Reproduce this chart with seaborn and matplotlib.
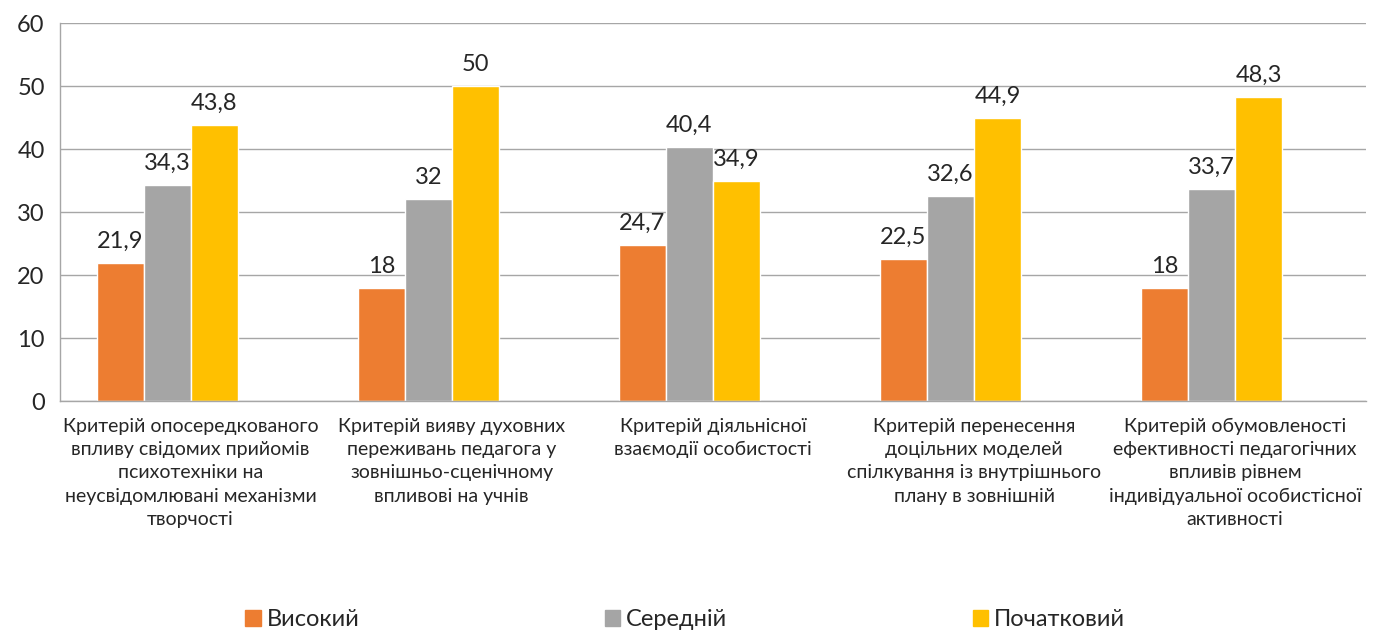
import matplotlib
matplotlib.use("Agg")
import matplotlib.pyplot as plt
import numpy as np
import pandas as pd
import seaborn as sns

# Дані діаграми
categories = [
    "Критерій опосередкованого\nвпливу свідомих прийомів\nпсихотехніки на\nнеусвідомлювані механізми\nтворчості",
    "Критерій вияву духовних\nпереживань педагога у\nзовнішньо-сценічному\nвпливові на учнів",
    "Критерій діяльнісної\nвзаємодії особистості",
    "Критерій перенесення\nдоцільних моделей\nспілкування із внутрішнього\nплану в зовнішній",
    "Критерій обумовленості\nефективності педагогічних\nвпливів рівнем\nіндивідуальної особистісної\nактивності",
]
levels = ["Високий", "Середній", "Початковий"]
high = [21.9, 18, 24.7, 22.5, 18]
medium = [34.3, 32, 40.4, 32.6, 33.7]
initial = [43.8, 50, 34.9, 44.9, 48.3]
y_ticks = [0, 10, 20, 30, 40, 50, 60]

COLORS = ["#ED7D31", "#A5A5A5", "#FFC000", "#FFFFFF"]

sns.set_style("white")
plt.rcParams["font.family"] = ["Lato", "DejaVu Sans"]

rows = []
for vals, lvl in zip([high, medium, initial], levels):
    for cat, v in zip(categories, vals):
        rows.append({"cat": cat, "level": lvl, "value": v})
df = pd.DataFrame(rows)

fig = plt.figure(figsize=(13.76, 6.32), dpi=100)
ax = fig.add_axes([0.0436, 0.3655, 0.949, 0.598])

# у вихідній діаграмі є четвертий (порожній) ряд, тому групи зсунуті ліворуч
sns.barplot(data=df, x="cat", y="value", hue="level",
            hue_order=levels + ["_empty"], palette=COLORS,
            width=0.72, gap=0, saturation=1, ax=ax, legend=False)

for cont in ax.containers[:3]:
    ax.bar_label(cont, labels=[f"{v:g}".replace(".", ",") for v in cont.datavalues],
                 padding=8, fontsize=17)

ax.set_ylim(0, 60)
ax.set_yticks(y_ticks)
ax.set_xlim(-0.5, len(categories) - 0.5)
ax.yaxis.grid(True, color="#A6A6A6", lw=1)
ax.set_axisbelow(True)
ax.set_xlabel("")
ax.set_ylabel("")

for s in ["top", "right"]:
    ax.spines[s].set_visible(False)
for s in ["left", "bottom"]:
    ax.spines[s].set_color("#A6A6A6")
    ax.spines[s].set_linewidth(1)

ax.tick_params(axis="y", labelsize=17, length=8, color="#A6A6A6", width=1, pad=3)
ax.tick_params(axis="x", which="major", length=0, labelsize=14, pad=12)
ax.set_xticks(np.arange(-0.5, len(categories)), minor=True)
ax.tick_params(axis="x", which="minor", length=7, color="#A6A6A6", width=1)
ax.set_xticklabels(categories, linespacing=1.45)

handles = [plt.Rectangle((0, 0), 1, 1, color=c) for c in COLORS[:3]]
fig.legend(handles, levels, loc="center", bbox_to_anchor=(0.498, 0.019),
           ncol=3, frameon=False, fontsize=17, handlelength=0.65, handleheight=0.65,
           handletextpad=0.25, columnspacing=10.4)

fig.savefig("out.png", dpi=100)
